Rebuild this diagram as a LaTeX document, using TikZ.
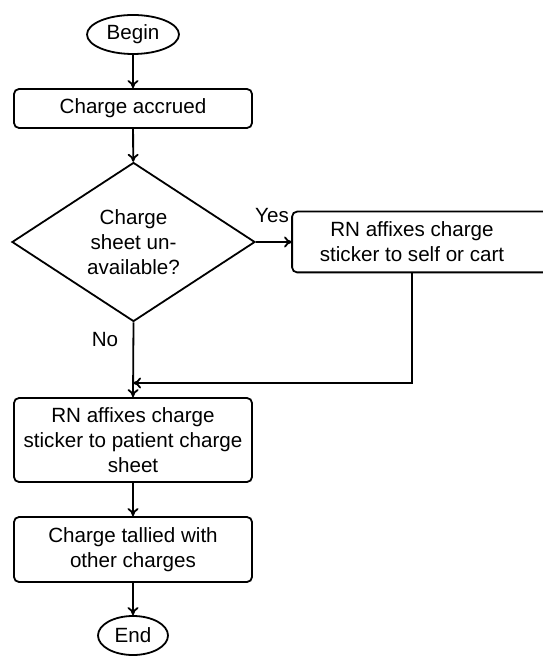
\documentclass[tikz,border=0pt]{standalone}
\usepackage{fontspec}
\setmainfont{Liberation Sans}
\usetikzlibrary{shapes.geometric,arrows.meta}
\begin{document}
\begin{tikzpicture}[x=0.5pt,y=-0.5pt,
  every node/.style={font=\fontsize{10.3}{12.6}\selectfont, text=black},
  line/.style={line width=0.9pt},
  flow/.style={line, -{To[length=4pt,width=5.5pt]}},
  terminal/.style={ellipse, draw, line width=0.9pt, inner sep=0pt, minimum height=19.5pt},
  process/.style={rectangle, draw, line width=0.9pt, rounded corners=2.5pt,
                  inner sep=0pt, minimum width=119pt, align=center},
  decision/.style={diamond, draw, line width=0.9pt, inner sep=0pt, aspect=1.53,
                   minimum width=121.5pt, minimum height=79.5pt, align=center},
  tag/.style={inner sep=0pt}]
  \useasboundingbox (0,0) rectangle (542,656);

  % main column
  \node[terminal, minimum width=46pt] (begin) at (133,34.5) {Begin};
  \node[process, minimum height=19.5pt] (accr) at (133,108.5) {Charge accrued};
  \node[decision] (dec) at (133.5,242) {Charge\\sheet un-\\available?};
  \node[process, minimum height=42pt] (sheet) at (133,440) {RN affixes charge\\sticker to patient charge\\sheet};
  \node[process, minimum height=32.5pt] (tally) at (133,549.5) {Charge tallied with\\other charges};
  \node[terminal, minimum width=35pt] (end) at (133,635.5) {End};

  % side branch: box runs past the right edge of the page
  \node[process, draw=none, minimum height=29.5pt] (cart) at (412,242) {RN affixes charge\\sticker to self or cart};
  \draw[line, rounded corners=2.5pt]
    ([xshift=40pt]cart.south east) -- (cart.south west) -- (cart.north west) -- ([xshift=40pt]cart.north east);

  \coordinate (merge) at (133,383);

  % connectors
  \draw[flow] (begin) -- (accr);
  \draw[flow] (accr) -- (dec);
  \draw[flow] (dec.east) -- (cart.west);
  \draw[flow] (dec.south) -- (sheet.north);
  \draw[flow] (cart.south) |- (merge);
  \draw[flow] (sheet) -- (tally);
  \draw[flow] (tally) -- (end);

  % branch labels
  \node[tag] (yes) at (272,216) {Yes};
  \node[tag] (no) at (105,340) {No};
\end{tikzpicture}
\end{document}
